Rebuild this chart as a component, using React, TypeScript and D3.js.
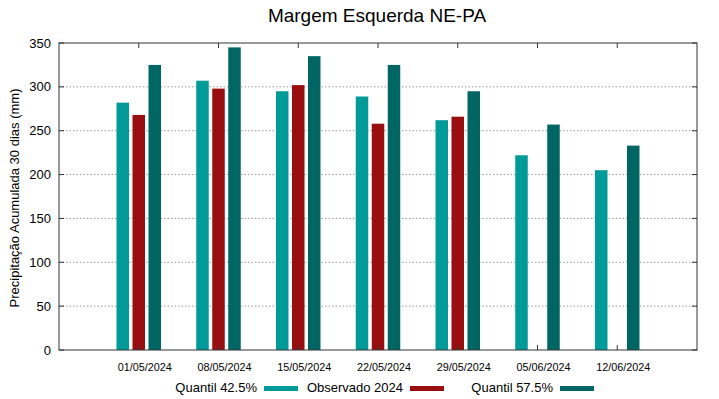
import React, { useEffect, useRef } from "react";
import * as d3 from "d3";

const categories = ["01/05/2024", "08/05/2024", "15/05/2024", "22/05/2024", "29/05/2024", "05/06/2024", "12/06/2024"];
const quantil425 = [282, 307, 295, 289, 262, 222, 205];
const observado = [268, 298, 302, 258, 266, null, null];
const quantil575 = [325, 345, 335, 325, 295, 257, 233];
const yTicks = [0, 50, 100, 150, 200, 250, 300, 350];

const series = [
  { name: "Quantil 42.5%", values: quantil425, color: "#009a98", offset: -16 },
  { name: "Observado 2024", values: observado, color: "#990e0e", offset: 0 },
  { name: "Quantil 57.5%", values: quantil575, color: "#006663", offset: 16 },
];

function drawChart(container: SVGSVGElement) {
  const width = 719;
  const height = 399;
  const margin = { top: 43, right: 22, bottom: 49, left: 59 };
  const font = "'Liberation Sans', Arial, sans-serif";

  const svg = d3.select(container);
  svg.selectAll("*").remove();

  const x = d3.scaleLinear().domain([-1, categories.length]).range([margin.left, width - margin.right]);
  const y = d3.scaleLinear().domain([0, 350]).range([height - margin.bottom, margin.top]);
  const barW = 12.5;

  svg.append("rect").attr("width", width).attr("height", height).attr("fill", "#fff");

  // grid
  svg
    .append("g")
    .selectAll("line")
    .data(yTicks.filter((t) => t > 0 && t < 350))
    .enter()
    .append("line")
    .attr("x1", margin.left)
    .attr("x2", width - margin.right)
    .attr("y1", (d) => y(d))
    .attr("y2", (d) => y(d))
    .attr("stroke", "#999")
    .attr("stroke-width", 1)
    .attr("stroke-dasharray", "1.5,2");

  // bars
  series.forEach((s) => {
    svg
      .append("g")
      .selectAll("rect")
      .data(s.values.map((v, i) => ({ v, i })).filter((d) => d.v !== null))
      .enter()
      .append("rect")
      .attr("x", (d) => x(d.i) + s.offset - barW / 2)
      .attr("y", (d) => y(d.v as number))
      .attr("width", barW)
      .attr("height", (d) => y(0) - y(d.v as number))
      .attr("fill", s.color);
  });

  // frame
  svg
    .append("rect")
    .attr("x", margin.left)
    .attr("y", margin.top)
    .attr("width", width - margin.left - margin.right)
    .attr("height", height - margin.top - margin.bottom)
    .attr("fill", "none")
    .attr("stroke", "#333")
    .attr("stroke-width", 1);

  // y ticks (inward both sides)
  const yg = svg.append("g");
  yTicks.forEach((t) => {
    yg.append("line").attr("x1", margin.left).attr("x2", margin.left + 5).attr("y1", y(t)).attr("y2", y(t)).attr("stroke", "#333");
    yg.append("line").attr("x1", width - margin.right).attr("x2", width - margin.right - 5).attr("y1", y(t)).attr("y2", y(t)).attr("stroke", "#333");
    yg.append("text")
      .attr("x", margin.left - 8)
      .attr("y", y(t))
      .attr("dy", "0.35em")
      .attr("text-anchor", "end")
      .style("font-family", font)
      .style("font-size", "13px")
      .text(t);
  });

  // x ticks
  const xg = svg.append("g");
  categories.forEach((c, i) => {
    xg.append("line").attr("x1", x(i)).attr("x2", x(i)).attr("y1", margin.top).attr("y2", margin.top + 5).attr("stroke", "#333");
    xg.append("line").attr("x1", x(i)).attr("x2", x(i)).attr("y1", y(0)).attr("y2", y(0) - 5).attr("stroke", "#333");
    xg.append("text")
      .attr("x", x(i) + 6)
      .attr("y", y(0) + 21)
      .attr("text-anchor", "middle")
      .style("font-family", font)
      .style("font-size", "10.8px")
      .text(c);
  });

  // title
  svg
    .append("text")
    .attr("x", 377)
    .attr("y", 22)
    .attr("text-anchor", "middle")
    .style("font-family", font)
    .style("font-size", "19px")
    .text("Margem Esquerda NE-PA");

  // y label
  svg
    .append("text")
    .attr("transform", `translate(19,198) rotate(-90)`)
    .attr("text-anchor", "middle")
    .style("font-family", font)
    .style("font-size", "13px")
    .text("Precipitação Acumulada 30 dias (mm)");

  // legend
  const legendEnds = [257, 403, 553];
  series.forEach((s, i) => {
    svg
      .append("text")
      .attr("x", legendEnds[i])
      .attr("y", 392)
      .attr("text-anchor", "end")
      .style("font-family", font)
      .style("font-size", "13px")
      .text(s.name);
    svg
      .append("rect")
      .attr("x", legendEnds[i] + 7)
      .attr("y", 386)
      .attr("width", 34)
      .attr("height", 5)
      .attr("fill", s.color);
  });
}

export default function App() {
  const ref = useRef<SVGSVGElement>(null);
  useEffect(() => {
    if (ref.current) drawChart(ref.current);
  }, []);
  return (
    <svg
      ref={ref}
      width={719}
      height={399}
      style={{ position: "absolute", left: 0, top: 0, display: "block" }}
    />
  );
}
